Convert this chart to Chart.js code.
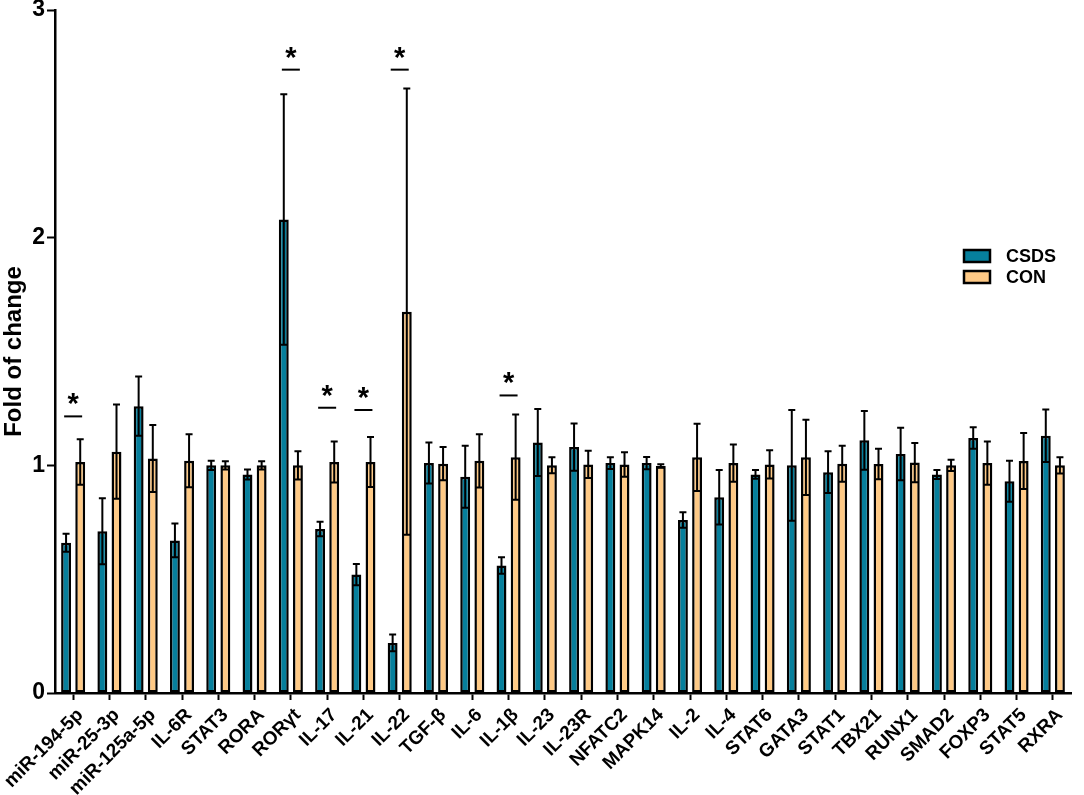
<html>
<head>
    <title>Fold of change</title>
    <style>
        html, body { margin: 0; padding: 0; background: #fff; }
        #wrap { width: 1084px; height: 795px; }
    </style>
</head>
<body>
<div id="wrap"><canvas id="chart"></canvas></div>

<script src="https://cdn.jsdelivr.net/npm/chart.js@4"></script>
<script>
    // genes / miRNAs on the x axis
    var genes = ['miR-194-5p', 'miR-25-3p', 'miR-125a-5p', 'IL-6R', 'STAT3', 'RORA', 'RORγt', 'IL-17', 'IL-21', 'IL-22',
        'TGF-β', 'IL-6', 'IL-1β', 'IL-23', 'IL-23R', 'NFATC2', 'MAPK14', 'IL-2', 'IL-4', 'STAT6',
        'GATA3', 'STAT1', 'TBX21', 'RUNX1', 'SMAD2', 'FOXP3', 'STAT5', 'RXRA']

    var csds = [0.66, 0.71, 1.26, 0.67, 1.00, 0.96, 2.08, 0.72, 0.52, 0.22,
        1.01, 0.95, 0.56, 1.10, 1.08, 1.01, 1.01, 0.76, 0.86, 0.96,
        1.00, 0.97, 1.11, 1.05, 0.96, 1.12, 0.93, 1.13]
    var csdsErr = [0.04, 0.145, 0.13, 0.074, 0.02, 0.022, 0.55, 0.032, 0.047, 0.037,
        0.09, 0.136, 0.036, 0.147, 0.104, 0.026, 0.027, 0.034, 0.12, 0.019,
        0.243, 0.092, 0.129, 0.115, 0.02, 0.047, 0.09, 0.115]

    var con = [1.015, 1.06, 1.03, 1.02, 1.00, 1.00, 1.00, 1.015, 1.015, 1.675,
        1.007, 1.02, 1.036, 1.00, 1.004, 1.004, 0.997, 1.035, 1.01, 1.004,
        1.035, 1.007, 1.006, 1.012, 1.00, 1.01, 1.019, 1.00]
    var conErr = [0.10, 0.207, 0.147, 0.116, 0.018, 0.018, 0.062, 0.09, 0.11, 0.98,
        0.073, 0.117, 0.187, 0.035, 0.06, 0.054, 0.008, 0.148, 0.082, 0.062,
        0.165, 0.079, 0.067, 0.086, 0.025, 0.095, 0.123, 0.036]

    // significance marks: which gene, and the level of the bar under the star
    var sigGenes = ['miR-194-5p', 'RORγt', 'IL-17', 'IL-21', 'IL-22', 'IL-1β']
    var sigLevel = [1.215, 2.738, 1.253, 1.243, 2.738, 1.307]

    var yTicks = [0, 1, 2, 3]

    var FONT = '"Liberation Sans", Arial, sans-serif'

    var errorBars = {
        id: 'errorBars',
        afterDatasetsDraw(chart) {
            var ctx = chart.ctx
            var y = chart.scales.y
            ctx.save()
            ctx.strokeStyle = '#000'
            ctx.lineWidth = 2
            chart.data.datasets.forEach(function (ds, i) {
                var meta = chart.getDatasetMeta(i)
                meta.data.forEach(function (bar, j) {
                    var v = ds.data[j], e = ds.errors[j]
                    var top = y.getPixelForValue(v + e)
                    var bot = y.getPixelForValue(v - e)
                    ctx.beginPath()
                    ctx.moveTo(bar.x, top)
                    ctx.lineTo(bar.x, bot)
                    ctx.moveTo(bar.x - 3.5, top)
                    ctx.lineTo(bar.x + 3.5, top)
                    ctx.moveTo(bar.x - 3.5, bot)
                    ctx.lineTo(bar.x + 3.5, bot)
                    ctx.stroke()
                })
            })
            // stars
            var x = chart.scales.x
            ctx.fillStyle = '#000'
            ctx.font = 'bold 29px ' + FONT
            ctx.textAlign = 'center'
            ctx.textBaseline = 'middle'
            sigGenes.forEach(function (g, k) {
                var cx = x.getPixelForValue(genes.indexOf(g))
                var ly = y.getPixelForValue(sigLevel[k])
                ctx.beginPath()
                ctx.moveTo(cx - 9, ly)
                ctx.lineTo(cx + 9, ly)
                ctx.stroke()
                ctx.fillText('*', cx, ly - 11)
            })
            ctx.restore()
        }
    }

    var boxLegend = {
        id: 'boxLegend',
        afterDraw(chart) {
            var ctx = chart.ctx
            var a = chart.chartArea
            ctx.save()
            ctx.font = 'bold 18px ' + FONT
            ctx.textBaseline = 'middle'
            ctx.textAlign = 'left'
            chart.data.datasets.forEach(function (ds, i) {
                var cy = a.top + 246 + i * 21
                var bx = a.right - 107
                ctx.fillStyle = ds.backgroundColor
                ctx.fillRect(bx, cy - 6, 26, 12)
                ctx.strokeStyle = '#000'
                ctx.lineWidth = 2.5
                ctx.strokeRect(bx, cy - 6, 26, 12)
                ctx.fillStyle = '#000'
                ctx.fillText(ds.label, bx + 42, cy + 1)
            })
            ctx.restore()
        }
    }

    new Chart(document.getElementById('chart').getContext('2d'), {
        type: 'bar',
        data: {
            labels: genes,
            datasets: [{
                label: 'CSDS',
                data: csds,
                errors: csdsErr,
                backgroundColor: '#067f9c',
                borderColor: '#000',
                borderWidth: 2.5,
                borderSkipped: false,
                categoryPercentage: 0.78,
                barPercentage: 0.7
            }, {
                label: 'CON',
                data: con,
                errors: conErr,
                backgroundColor: '#fec985',
                borderColor: '#000',
                borderWidth: 2.5,
                borderSkipped: false,
                categoryPercentage: 0.78,
                barPercentage: 0.7
            }]
        },
        options: {
            responsive: true,
            maintainAspectRatio: false,
            animation: false,
            layout: { padding: { top: 10, right: 13, left: 0, bottom: 0 } },
            plugins: {
                legend: { display: false },
                tooltip: { enabled: false }
            },
            scales: {
                x: {
                    offset: true,
                    grid: { display: true, drawOnChartArea: false, offset: false, tickLength: 7, tickWidth: 2, tickColor: '#000' },
                    border: { display: true, color: '#000', width: 2.5 },
                    ticks: {
                        color: '#000',
                        autoSkip: false,
                        minRotation: 45,
                        maxRotation: 45,
                        padding: 4,
                        labelOffset: 7,
                        font: { family: FONT, size: 19, weight: 'bold' }
                    },
                    afterFit: function (s) { s.height = 102; s.paddingLeft = 0; s.paddingRight = 0 }
                },
                y: {
                    min: 0,
                    max: 3,
                    afterBuildTicks: function (s) { s.ticks = yTicks.map(function (v) { return { value: v } }) },
                    grid: { display: true, drawOnChartArea: false, tickLength: 8, tickWidth: 2, tickColor: '#000' },
                    border: { display: true, color: '#000', width: 2.5 },
                    ticks: {
                        color: '#000',
                        padding: 2,
                        font: { family: FONT, size: 23, weight: 'bold' }
                    },
                    title: {
                        display: true,
                        text: 'Fold of change',
                        color: '#000',
                        padding: 0,
                        font: { family: FONT, size: 24, weight: 'bold' }
                    },
                    afterFit: function (s) { s.width = 55; s.paddingTop = 0; s.paddingBottom = 0 }
                }
            }
        },
        plugins: [errorBars, boxLegend]
    });
</script>
</body>
</html>
